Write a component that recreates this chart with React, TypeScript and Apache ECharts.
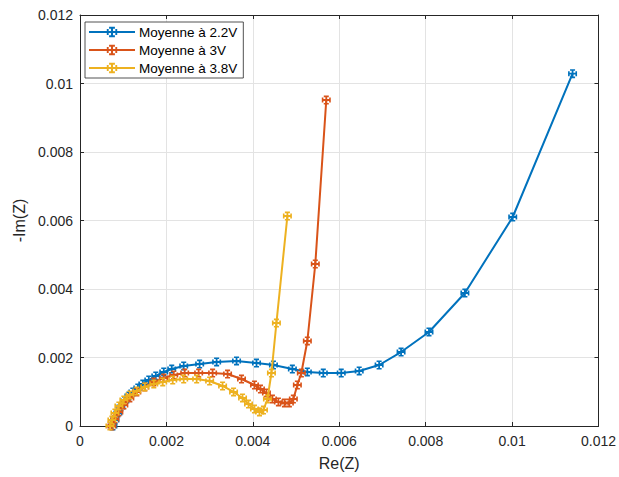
import React, { useEffect, useRef } from "react";
import * as echarts from "echarts";

const xTicks = [0, 0.002, 0.004, 0.006, 0.008, 0.01, 0.012];
const yTicks = [0, 0.002, 0.004, 0.006, 0.008, 0.01, 0.012];

const seriesNames = ["Moyenne à 2.2V", "Moyenne à 3V", "Moyenne à 3.8V"];
const seriesColors = ["#0072BD", "#D95319", "#EDB120"];

const re22 = [0.000762, 0.000808, 0.000877, 0.000946, 0.001038, 0.001131, 0.001223, 0.001338, 0.001454, 0.001592, 0.001754, 0.001938, 0.002123, 0.0024, 0.002769, 0.003162, 0.003623, 0.004085, 0.004477, 0.004915, 0.005262, 0.005631, 0.006046, 0.006462, 0.006923, 0.007431, 0.008077, 0.008908, 0.010015, 0.0114];
const im22 = [0, 0.000175, 0.00038, 0.000555, 0.00073, 0.000876, 0.000993, 0.00111, 0.001226, 0.001343, 0.00146, 0.001577, 0.001664, 0.001752, 0.00181, 0.001869, 0.001898, 0.001839, 0.001781, 0.001664, 0.001577, 0.001547, 0.001547, 0.001606, 0.001781, 0.00216, 0.002745, 0.003883, 0.006102, 0.010286];

const re3 = [0.000738, 0.000808, 0.0009, 0.001015, 0.001154, 0.001315, 0.0015, 0.001708, 0.001938, 0.002169, 0.002423, 0.002746, 0.003069, 0.003415, 0.003738, 0.004038, 0.004177, 0.004315, 0.004454, 0.004592, 0.004731, 0.004846, 0.004938, 0.005031, 0.005123, 0.005262, 0.005446, 0.0057];
const im3 = [0, 0.000204, 0.000409, 0.000613, 0.000818, 0.000993, 0.001139, 0.001285, 0.001401, 0.001489, 0.001547, 0.001547, 0.001547, 0.001518, 0.001372, 0.001197, 0.00108, 0.000964, 0.000788, 0.000701, 0.000672, 0.000672, 0.000788, 0.001197, 0.001547, 0.002482, 0.00473, 0.009518];

const re38 = [0.000692, 0.000738, 0.000808, 0.0009, 0.001015, 0.001154, 0.001315, 0.0015, 0.001708, 0.001915, 0.002146, 0.0024, 0.0027, 0.003, 0.0033, 0.003554, 0.003762, 0.0039, 0.004038, 0.004154, 0.004246, 0.004338, 0.004431, 0.004546, 0.0048];
const im38 = [0, 0.000175, 0.00038, 0.000584, 0.000759, 0.000905, 0.001022, 0.001139, 0.001226, 0.001285, 0.001343, 0.001372, 0.001372, 0.001314, 0.001168, 0.000993, 0.000818, 0.000642, 0.000496, 0.000409, 0.000467, 0.000788, 0.001547, 0.003007, 0.006131];

const errSymbol =
  "path://M0,4H10V6H0ZM4,0H6V10H4ZM0,2.2H1.8V7.8H0ZM8.2,2.2H10V7.8H8.2ZM2.2,0H7.8V1.8H2.2ZM2.2,8.2H7.8V10H2.2Z";

const fmt = (v: number) => String(parseFloat(Number(v).toPrecision(6)));

export default function App() {
  const ref = useRef<HTMLDivElement>(null);
  useEffect(() => {
    if (!ref.current) return;
    const chart = echarts.init(ref.current, null, { renderer: "svg" });
    const xs = [re22, re3, re38];
    const ys = [im22, im3, im38];
    const textColor = "#262626";
    const font = "Liberation Sans, Arial, Helvetica, sans-serif";
    const baseX = {
      type: "value",
      min: xTicks[0],
      max: xTicks[xTicks.length - 1],
      interval: xTicks[1] - xTicks[0],
    };
    const baseY = {
      type: "value",
      min: yTicks[0],
      max: yTicks[yTicks.length - 1],
      interval: yTicks[1] - yTicks[0],
    };
    chart.setOption({
      animation: false,
      backgroundColor: "#ffffff",
      textStyle: { fontFamily: font },
      grid: { left: 80, right: 19, top: 15, bottom: 51, containLabel: false },
      legend: {
        show: true,
        orient: "vertical",
        left: 85,
        top: 22,
        itemWidth: 46,
        itemHeight: 13,
        itemGap: 4,
        padding: [3, 6, 3, 3],
        backgroundColor: "#ffffff",
        borderColor: "#262626",
        borderWidth: 0.8,
        borderRadius: 0,
        textStyle: { fontSize: 13.5, color: "#000000", fontFamily: font, padding: [0, 0, 0, -1] },
        data: seriesNames,
      },
      xAxis: [
        {
          ...baseX,
          position: "bottom",
          name: "Re(Z)",
          nameLocation: "middle",
          nameGap: 29,
          nameTextStyle: { fontSize: 16, color: textColor, fontFamily: font },
          axisLine: { show: true, onZero: false, lineStyle: { color: textColor, width: 1 } },
          axisTick: { show: true, inside: true, length: 4, lineStyle: { color: textColor } },
          axisLabel: { fontSize: 14, color: textColor, formatter: fmt, margin: 8, fontFamily: font },
          splitLine: { show: true, lineStyle: { color: "#e3e3e3", width: 1 } },
        },
        {
          ...baseX,
          position: "top",
          axisLine: { show: true, onZero: false, lineStyle: { color: textColor, width: 1 } },
          axisTick: { show: true, inside: true, length: 4, lineStyle: { color: textColor } },
          axisLabel: { show: false },
          splitLine: { show: false },
        },
      ],
      yAxis: [
        {
          ...baseY,
          position: "left",
          name: "-Im(Z)",
          nameLocation: "middle",
          nameGap: 53,
          nameRotate: 90,
          nameTextStyle: { fontSize: 16, color: textColor, fontFamily: font },
          axisLine: { show: true, onZero: false, lineStyle: { color: textColor, width: 1 } },
          axisTick: { show: true, inside: true, length: 4, lineStyle: { color: textColor } },
          axisLabel: { fontSize: 14, color: textColor, formatter: fmt, margin: 7, fontFamily: font },
          splitLine: { show: true, lineStyle: { color: "#e3e3e3", width: 1 } },
        },
        {
          ...baseY,
          position: "right",
          axisLine: { show: true, onZero: false, lineStyle: { color: textColor, width: 1 } },
          axisTick: { show: true, inside: true, length: 4, lineStyle: { color: textColor } },
          axisLabel: { show: false },
          splitLine: { show: false },
        },
      ],
      series: seriesNames.map((name, i) => ({
        name,
        type: "line",
        xAxisIndex: 0,
        yAxisIndex: 0,
        data: xs[i].map((x, j) => [x, ys[i][j]]),
        symbol: errSymbol,
        symbolSize: 9,
        showSymbol: true,
        lineStyle: { color: seriesColors[i], width: 2 },
        itemStyle: { color: seriesColors[i] },
        color: seriesColors[i],
        z: 2 + i,
      })),
    });
    return () => chart.dispose();
  }, []);
  return (
    <div
      ref={ref}
      style={{ position: "fixed", left: 0, top: 0, width: 619, height: 477 }}
    />
  );
}
